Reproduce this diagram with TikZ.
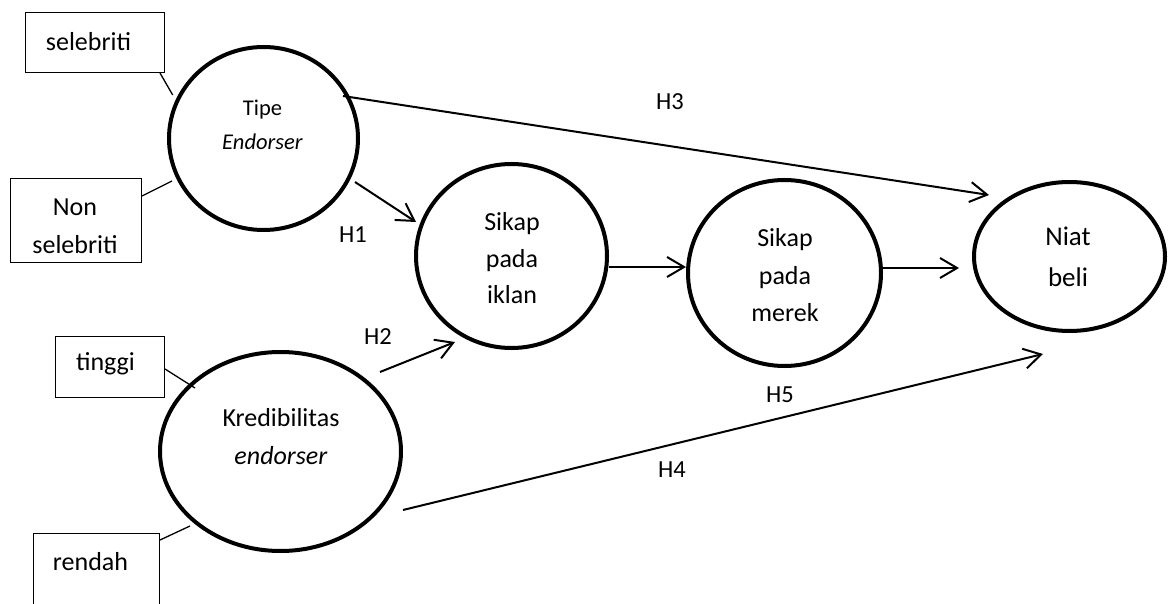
\documentclass[tikz,border=0pt]{standalone}
\usepackage{fontspec}
\setmainfont{Carlito}
\usetikzlibrary{shapes.geometric,arrows.meta}
\begin{document}
\begin{tikzpicture}[x=1pt,y=-1pt,
  latent/.style={draw, ellipse, line width=4pt, inner sep=0pt},
  indbox/.style={draw, rectangle, line width=1.2pt, inner sep=0pt},
  link/.style={line width=1.3pt},
  causal/.style={line width=2pt, -{Straight Barb[length=17pt,width=20pt,line width=2pt]}},
  txt/.style={font=\fontsize{26}{37}\selectfont, align=center, inner sep=0pt},
  hyp/.style={font=\fontsize{24.5}{30}\selectfont, inner sep=0pt}]
\clip (0,0) rectangle (1168,604);
\fill[white] (0,0) rectangle (1168,604);

% latent constructs
\node[latent, minimum width=189pt, minimum height=183pt] (tipe) at (263.5,138.5) {};
\node[latent, minimum width=241pt, minimum height=199pt] (kred) at (280.5,451.5) {};
\node[latent, minimum width=191pt, minimum height=184pt] (iklan) at (511.5,256) {};
\node[latent, minimum width=193pt, minimum height=186pt] (merek) at (784.5,273) {};
\node[latent, minimum width=191pt, minimum height=149pt] (niat) at (1069.5,256.5) {};

% indicator boxes
\node[indbox, minimum width=139pt, minimum height=60pt] (seleb) at (95,42.5) {};
\node[indbox, minimum width=131pt, minimum height=84pt] (nonseleb) at (76,220.5) {};
\node[indbox, minimum width=109pt, minimum height=61pt] (tinggi) at (110,367) {};
\node[indbox, minimum width=126pt, minimum height=100pt] (rendah) at (96.5,583.5) {};

% texts
\node[txt] (tseleb) at (88.5,42) {selebriti};
\node[txt, font=\fontsize{26}{38}\selectfont] (tnon) at (75,226) {Non\\selebriti};
\node[txt] (ttinggi) at (105.5,364) {tinggi};
\node[txt] (trendah) at (90.5,562) {rendah};
\node[txt, font=\fontsize{22.5}{34}\selectfont] (ttipe) at (262.5,125) {Tipe\\\textit{Endorser}};
\node[txt, font=\fontsize{26}{38}\selectfont] (tkred) at (281,437) {Kredibilitas\\\textit{endorser}};
\node[txt, font=\fontsize{26}{36.5}\selectfont] (tiklan) at (512,258.5) {Sikap\\pada\\iklan};
\node[txt, font=\fontsize{26}{37.5}\selectfont] (tmerek) at (785,275.5) {Sikap\\pada\\merek};
\node[txt, font=\fontsize{27}{41}\selectfont] (tniat) at (1068,256.5) {Niat\\beli};

% indicator links
\coordinate (sa) at (160,73);   \coordinate (sb) at (172.7,95);
\coordinate (na) at (142,196);  \coordinate (nb) at (172,181);
\coordinate (ta) at (165,369);  \coordinate (tb) at (195,388);
\coordinate (ra) at (160,540);  \coordinate (rb) at (190,526);
\draw[link] (sa) -- (sb);
\draw[link] (na) -- (nb);
\draw[link] (ta) -- (tb);
\draw[link] (ra) -- (rb);

% causal arrows
\coordinate (h1s) at (355,182);  \coordinate (h1e) at (416,222);
\coordinate (h2s) at (380,372);  \coordinate (h2e) at (455,342);
\coordinate (h3s) at (343,96);   \coordinate (h3e) at (989,195);
\coordinate (ams) at (609,267);  \coordinate (ame) at (686,267);
\coordinate (mns) at (883,268);  \coordinate (mne) at (959,268);
\coordinate (h4s) at (403,510);  \coordinate (h4e) at (1043,354);
\draw[causal] (h1s) -- (h1e);
\draw[causal] (h2s) -- (h2e);
\draw[causal] (h3s) -- (h3e);
\draw[causal] (ams) -- (ame);
\draw[causal] (mns) -- (mne);
\draw[causal] (h4s) -- (h4e);

% hypothesis labels
\node[hyp] (lh1) at (353,235) {H1};
\node[hyp] (lh2) at (378,337) {H2};
\node[hyp] (lh3) at (670,102) {H3};
\node[hyp] (lh4) at (672,470) {H4};
\node[hyp] (lh5) at (780,395) {H5};
\end{tikzpicture}
\end{document}
